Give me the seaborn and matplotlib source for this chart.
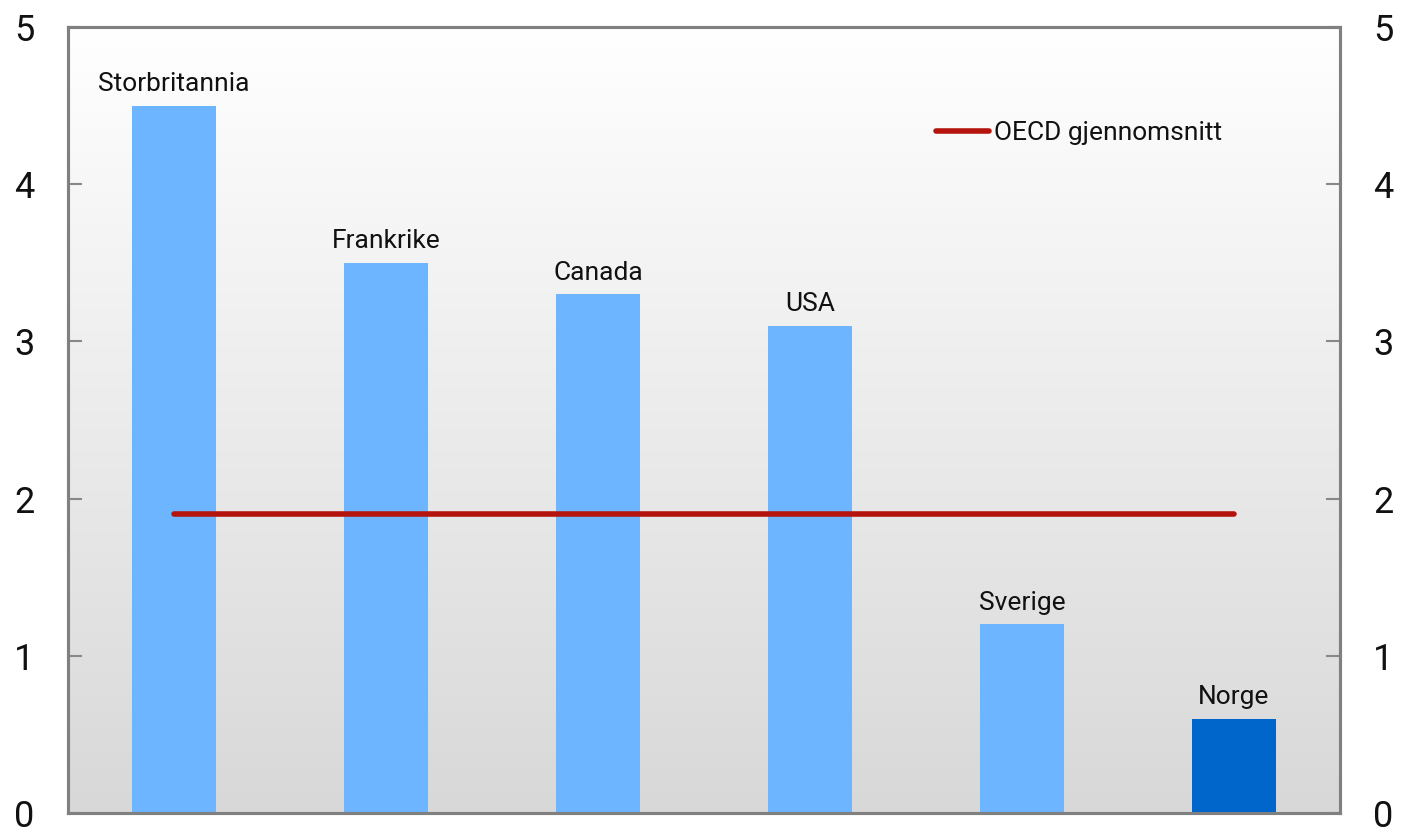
import numpy as np
import matplotlib
matplotlib.use("Agg")
import matplotlib.pyplot as plt
import seaborn as sns
from matplotlib.colors import LinearSegmentedColormap

categories = ["Storbritannia", "Frankrike", "Canada", "USA", "Sverige", "Norge"]
values = [4.5, 3.5, 3.3, 3.1, 1.2, 0.6]
oecd_avg = [1.9, 1.9, 1.9, 1.9, 1.9, 1.9]
yticks = [0, 1, 2, 3, 4, 5]
legend_label = "OECD gjennomsnitt"

light_blue = "#6DB6FF"
dark_blue = "#0066CC"
red = "#B5130D"
bar_colors = [light_blue] * 5 + [dark_blue]

sns.set_theme(style="white")
plt.rcParams["font.family"] = ["Roboto", "DejaVu Sans"]

fig = plt.figure(figsize=(14.01, 8.27), dpi=100)
ax = fig.add_axes([68 / 1401, 1 - 813 / 827, (1340 - 68) / 1401, (813 - 27) / 827])

# gradient background
grad = np.linspace(0, 1, 256).reshape(-1, 1)
cmap = LinearSegmentedColormap.from_list("bg", ["#D8D8D8", "#FFFFFF"])
ax.imshow(grad, extent=[0, 1, 0, 1], transform=ax.transAxes, cmap=cmap,
          aspect="auto", origin="lower", zorder=0)

sns.barplot(x=categories, y=values, hue=categories, palette=bar_colors,
            legend=False, width=0.4, saturation=1, linewidth=0, ax=ax, zorder=2)

xpos = np.arange(len(categories))
ax.plot(xpos, oecd_avg, color=red, lw=4, solid_capstyle="round", zorder=3,
        label=legend_label)

for i, (c, v) in enumerate(zip(categories, values)):
    ax.text(i, v + 0.06, c, ha="center", va="bottom", fontsize=19,
            color="#111111", zorder=4)

ax.set_xlim(-0.5, len(categories) - 0.5)
ax.set_ylim(0, 5)
ax.set_yticks(yticks)
ax.set_yticklabels([str(t) for t in yticks])
ax.set_xticks([])
ax.set_xlabel("")
ax.set_ylabel("")
ax.tick_params(axis="y", direction="in", length=10, width=1.5, color="#888888",
               labelsize=26, labelcolor="#111111", pad=24, left=True)

ax2 = ax.twinx()
ax2.set_ylim(0, 5)
ax2.set_yticks(yticks)
ax2.set_yticklabels([str(t) for t in yticks])
ax2.tick_params(axis="y", direction="in", length=10, width=1.5, color="#888888",
                labelsize=26, labelcolor="#111111", pad=24, right=True)
ax2.grid(False)
ax.grid(False)

for a in (ax, ax2):
    for s in a.spines.values():
        s.set_color("#808080")
        s.set_linewidth(2.2)
        s.set_visible(True)

leg = ax.legend(loc="center left", bbox_to_anchor=(0.6825, 0.865), frameon=False,
                fontsize=19, handlelength=2.0, handletextpad=0.2, borderpad=0,
                borderaxespad=0)
for t in leg.get_texts():
    t.set_color("#111111")

fig.savefig("out.png", dpi=100)
